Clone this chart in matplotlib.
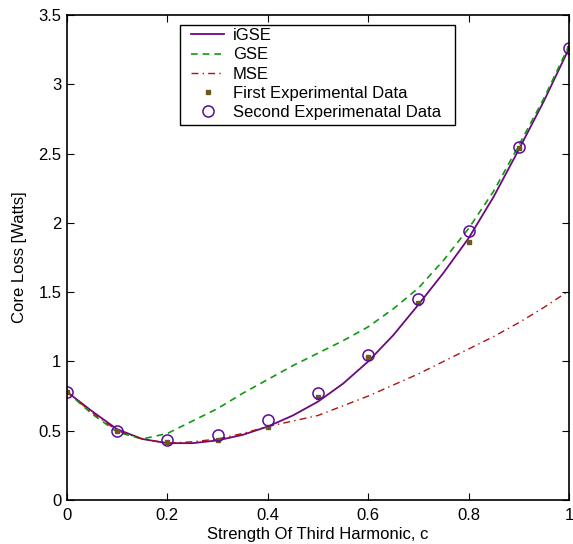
import matplotlib
matplotlib.use("Agg")
import matplotlib.pyplot as plt
from matplotlib.patches import Rectangle

plt.rcParams['font.family'] = ['Liberation Sans', 'DejaVu Sans']

# model curves
c_curve = [0.0, 0.05, 0.1, 0.15, 0.2, 0.25, 0.3, 0.35, 0.4, 0.45, 0.5,
           0.55, 0.6, 0.65, 0.7, 0.75, 0.8, 0.85, 0.9, 0.95, 1.0]
igse = [0.78, 0.64, 0.51, 0.44, 0.41, 0.41, 0.43, 0.47, 0.53, 0.61, 0.71,
        0.84, 1.00, 1.19, 1.41, 1.64, 1.89, 2.19, 2.53, 2.88, 3.26]
gse = [0.78, 0.62, 0.49, 0.44, 0.48, 0.57, 0.66, 0.77, 0.87, 0.97, 1.06,
       1.15, 1.25, 1.38, 1.53, 1.73, 1.96, 2.23, 2.56, 2.90, 3.28]
mse = [0.78, 0.63, 0.50, 0.44, 0.41, 0.42, 0.44, 0.48, 0.53, 0.57, 0.61,
       0.68, 0.75, 0.83, 0.91, 1.00, 1.09, 1.18, 1.28, 1.39, 1.51]

# measurements
c_meas = [0.0, 0.1, 0.2, 0.3, 0.4, 0.5, 0.6, 0.7, 0.8, 0.9, 1.0]
first_data = [0.78, 0.50, 0.42, 0.43, 0.53, 0.74, 1.03, 1.42, 1.86, 2.54, 3.26]
second_data = [0.78, 0.50, 0.43, 0.47, 0.58, 0.77, 1.05, 1.45, 1.94, 2.55, 3.26]

fig = plt.figure(figsize=(5.73, 5.44), dpi=100)
ax = fig.add_axes([0.117, 0.081, 0.876, 0.891])

ax.plot(c_curve, igse, color="#6a0a7e", lw=1.3, label="iGSE")
ax.plot(c_curve, gse, color="#109a10", lw=1.2, ls=(0, (4, 3)), label="GSE")
ax.plot(c_curve, mse, color="#b01010", lw=1.0, ls=(0, (5, 3, 1, 3)), label="MSE")
ax.plot(c_meas, first_data, ls="none", marker="s", ms=3, color="#6b5a1a",
        label="First Experimental Data")
ax.plot(c_meas, second_data, ls="none", marker="o", ms=8, mfc="none",
        mec="#5a0a9a", mew=1.1, label="Second Experimenatal Data")

ax.set_xlim(0, 1)
ax.set_ylim(0, 3.5)
ax.set_xticks([0, 0.2, 0.4, 0.6, 0.8, 1])
ax.set_xticklabels(["0", "0.2", "0.4", "0.6", "0.8", "1"])
ax.set_yticks([0, 0.5, 1, 1.5, 2, 2.5, 3, 3.5])
ax.set_yticklabels(["0", "0.5", "1", "1.5", "2", "2.5", "3", "3.5"])
ax.tick_params(direction="in", top=True, right=True, length=5, labelsize=12)
ax.tick_params(axis="x", pad=6)
ax.tick_params(axis="y", pad=4)
for s in ax.spines.values():
    s.set_linewidth(1.2)
ax.set_xlabel("Strength Of Third Harmonic, c", fontsize=12, labelpad=3)
ax.set_ylabel("Core Loss [Watts]", fontsize=12, labelpad=8)

# legend box drawn by hand: wide side padding, tight top/bottom
box = Rectangle((0.225, 0.773), 0.548, 0.206, transform=ax.transAxes,
                facecolor="white", edgecolor="black", lw=1.0, zorder=4)
ax.add_patch(box)
leg = ax.legend(loc="upper left", bbox_to_anchor=(0.247, 0.973), fontsize=12,
                frameon=False, handlelength=2.0, handletextpad=0.5,
                borderpad=0, labelspacing=0.25, borderaxespad=0)
leg.set_zorder(5)

fig.savefig("out.png", dpi=100)
